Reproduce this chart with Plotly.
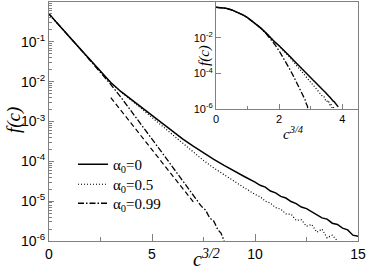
import numpy as np
import plotly.graph_objects as go

# main x: c^{3/2}
X_A0 = [0, 0.1, 0.25, 0.5, 0.75, 1, 1.5, 2, 2.5, 3, 3.5, 4, 4.5, 5, 5.5, 6, 6.5, 7, 7.5, 8, 8.5, 9, 9.5, 10,
        10.25, 10.5, 10.75, 11, 11.25, 11.5, 11.75, 12, 12.25, 12.5, 12.75, 13, 13.25, 13.5, 13.75, 14,
        14.25, 14.5, 14.75, 15]
F_A0 = [5.0e-1, 4.4e-1, 3.6e-1, 2.57e-1, 1.85e-1, 1.32e-1, 6.8e-2, 3.55e-2, 1.86e-2, 9.5e-3, 5.6e-3, 3.55e-3,
        2.24e-3, 1.41e-3, 8.9e-4, 5.6e-4, 3.63e-4, 2.4e-4, 1.62e-4, 1.12e-4, 7.9e-5, 5.6e-5, 4.1e-5, 3.0e-5,
        2.5e-5, 2.25e-5, 1.8e-5, 1.62e-5, 1.32e-5, 1.2e-5, 9.8e-6, 8.7e-6, 7.1e-6, 6.5e-6, 5.4e-6, 4.7e-6,
        3.8e-6, 3.55e-6, 2.8e-6, 2.6e-6, 2.1e-6, 1.9e-6, 1.4e-6, 1.32e-6]

X_A05 = [0, 0.1, 0.25, 0.5, 0.75, 1, 1.5, 2, 2.5, 3, 3.5, 4, 4.5, 5, 5.5, 6, 6.5, 7, 7.5, 8, 8.5, 9, 9.5, 10,
         10.25, 10.5, 10.75, 11, 11.25, 11.5, 11.75, 12, 12.25, 12.5, 12.75, 13, 13.25, 13.5, 13.75, 14]
F_A05 = [5.0e-1, 4.4e-1, 3.6e-1, 2.55e-1, 1.84e-1, 1.31e-1, 6.7e-2, 3.5e-2, 1.83e-2, 9.3e-3, 5.5e-3, 3.47e-3,
         2.09e-3, 1.26e-3, 7.6e-4, 4.57e-4, 2.75e-4, 1.66e-4, 1.05e-4, 6.8e-5, 4.57e-5, 3.16e-5, 2.14e-5, 1.48e-5,
         1.29e-5, 1.0e-5, 8.9e-6, 6.9e-6, 6.3e-6, 4.8e-6, 4.7e-6, 3.3e-6, 3.4e-6, 2.35e-6, 2.6e-6, 1.66e-6,
         2.0e-6, 1.2e-6, 1.4e-6, 1.0e-6]

X_A099 = [0, 0.1, 0.25, 0.5, 0.75, 1, 1.5, 2, 2.5, 3, 3.5, 4, 4.5, 5, 5.5, 6, 6.5, 7, 7.2, 7.4, 7.6, 7.8, 8.0,
          8.2, 8.35, 8.5]
F_A099 = [5.0e-1, 4.4e-1, 3.6e-1, 2.57e-1, 1.84e-1, 1.32e-1, 6.8e-2, 3.47e-2, 1.74e-2, 8.5e-3, 4.0e-3, 1.82e-3,
          8.1e-4, 3.63e-4, 1.62e-4, 7.2e-5, 3.16e-5, 1.38e-5, 1.05e-5, 7.4e-6, 6.0e-6, 3.8e-6, 3.16e-6,
          1.9e-6, 1.58e-6, 1.0e-6]

X_FIT = [3.0, 7.1]
F_FIT = [3.98e-3, 8.3e-6]

Y_TICKS = [1e-6, 1e-5, 1e-4, 1e-3, 1e-2, 1e-1]
Y_LABELS = ["10<sup>-6</sup>", "10<sup>-5</sup>", "10<sup>-4</sup>", "10<sup>-3</sup>", "10<sup>-2</sup>", "10<sup>-1</sup>"]
Y_MINOR = [m * 10.0 ** e for e in range(-6, 0) for m in range(2, 10)]
X_TICKS = [0, 5, 10, 15]
X_MINOR = [2.5, 7.5, 12.5]

IN_Y_TICKS = [1e-6, 1e-4, 1e-2]
IN_Y_LABELS = ["10<sup>-6</sup>", "10<sup>-4</sup>", "10<sup>-2</sup>"]
IN_X_TICKS = [0, 2, 4]
IN_X_MINOR = [1, 3]

LEGEND = ["α<sub>0</sub>=0", "α<sub>0</sub>=0.5", "α<sub>0</sub>=0.99"]

SANS = "Liberation Sans, Arial, sans-serif"
SERIF = "Liberation Serif, Times New Roman, serif"
AX = "#808080"

L, R, T, B = 49, 10, 2, 32
W, H = 368, 273
PW, PH = W - L - R, H - T - B


def px(xp):
    return (xp - L) / PW


def py(yp):
    return (H - B - yp) / PH


fig = go.Figure()
styles = [dict(color="black", width=1.5, dash="solid"),
          dict(color="black", width=1.2, dash="1px,2px"),
          dict(color="black", width=1.3, dash="6px,2px,1.5px,2px")]
series = [(X_A0, F_A0), (X_A05, F_A05), (X_A099, F_A099)]
legend_ids = ["legend", "legend2", "legend3"]
for (xs, fs), st, name, lg in zip(series, styles, LEGEND, legend_ids):
    fig.add_trace(go.Scatter(x=xs, y=fs, mode="lines", line=st, name=name, legend=lg,
                             xaxis="x", yaxis="y"))
fig.add_trace(go.Scatter(x=X_FIT, y=F_FIT, mode="lines", showlegend=False,
                         line=dict(color="black", width=1.2, dash="5px,3px"), xaxis="x", yaxis="y"))
for (xs, fs), st in zip(series, styles):
    fig.add_trace(go.Scatter(x=np.sqrt(np.array(xs, dtype=float)), y=fs, mode="lines",
                             line=st, showlegend=False, xaxis="x2", yaxis="y2"))

leg_common = dict(xanchor="left", yanchor="top", font=dict(family=SERIF, size=15),
                  bgcolor="rgba(0,0,0,0)", itemwidth=30)

fig.update_layout(
    width=W, height=H,
    margin=dict(l=L, r=R, t=T, b=B, autoexpand=False),
    paper_bgcolor="white", plot_bgcolor="white",
    font=dict(family=SANS, size=14, color="black"),
    showlegend=True,
    legend=dict(x=px(73), y=py(148), **leg_common),
    legend2=dict(x=px(73), y=py(168), **leg_common),
    legend3=dict(x=px(73), y=py(187), **leg_common),
    xaxis=dict(domain=[0, 1], range=[0, 15], showline=True, linecolor=AX, linewidth=1, mirror=True,
               automargin=False, showgrid=False, zeroline=False, tickmode="array", tickvals=X_TICKS,
               ticks="inside", ticklen=7, tickcolor=AX, tickfont=dict(size=14),
               minor=dict(tickvals=X_MINOR, ticks="inside", ticklen=4, tickcolor=AX)),
    yaxis=dict(domain=[0, 1], type="log", range=[-6, 0], showline=True, linecolor=AX, linewidth=1, mirror=True,
               automargin=False, showgrid=False, zeroline=False, tickmode="array", tickvals=Y_TICKS,
               ticktext=Y_LABELS, ticks="inside", ticklen=5, tickcolor=AX, tickfont=dict(size=14),
               minor=dict(tickvals=Y_MINOR, ticks="inside", ticklen=3, tickcolor=AX)),
    xaxis2=dict(domain=[px(216), 1], anchor="y2", range=[0, 4.5], showline=True, linecolor=AX, linewidth=1,
                automargin=False, mirror=True, showgrid=False, zeroline=False, tickmode="array",
                tickvals=IN_X_TICKS, ticks="inside", ticklen=5, tickcolor=AX, tickfont=dict(size=11),
                minor=dict(tickvals=IN_X_MINOR, ticks="inside", ticklen=3, tickcolor=AX)),
    yaxis2=dict(domain=[py(109), 1], anchor="x2", type="log", range=[-6, 0], showline=True, linecolor=AX,
                automargin=False, linewidth=1, mirror=True, showgrid=False, zeroline=False, tickmode="array",
                tickvals=IN_Y_TICKS, ticktext=IN_Y_LABELS, ticks="inside", ticklen=5, tickcolor=AX,
                tickfont=dict(size=11)),
    annotations=[
        dict(text="<i>f(c)</i>", xref="paper", yref="paper", x=px(14), y=py(120),
             xanchor="center", yanchor="middle",
             textangle=-90, showarrow=False, font=dict(family=SERIF, size=19)),
        dict(text="<i>c</i><sup><i>3/2</i></sup>", xref="paper", yref="paper", x=px(206), y=py(272),
             xanchor="center", yanchor="bottom", showarrow=False, font=dict(family=SERIF, size=20)),
        dict(text="<i>f(c)</i>", xref="paper", yref="paper", x=px(204), y=py(56),
             xanchor="center", yanchor="middle",
             textangle=-90, showarrow=False, font=dict(family=SERIF, size=15)),
        dict(text="<i>c</i><sup><i>3/4</i></sup>", xref="paper", yref="paper", x=px(293),
             y=py(133), xanchor="center", yanchor="middle",
             showarrow=False, font=dict(family=SERIF, size=15)),
    ],
)

fig.write_html("out.html", config={"displayModeBar": False},
               post_script="document.body.style.margin='0px'; document.body.style.padding='0px';")
